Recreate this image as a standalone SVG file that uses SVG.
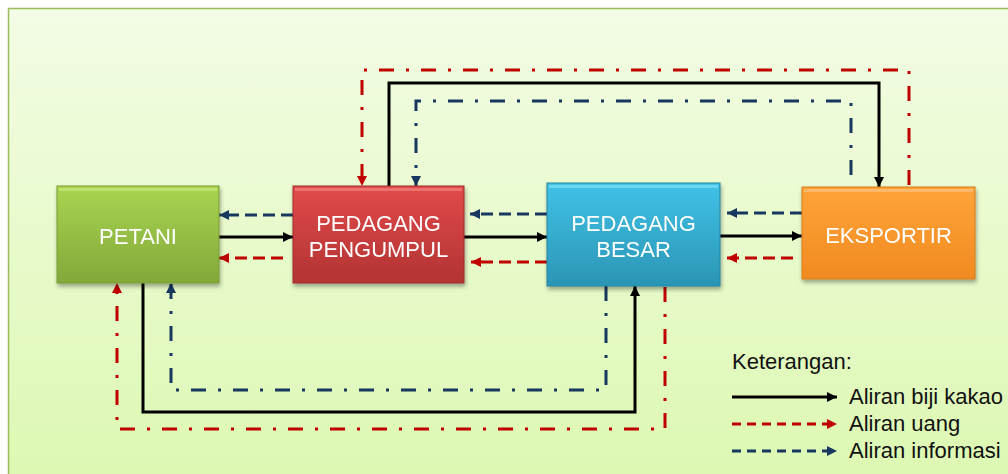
<svg xmlns="http://www.w3.org/2000/svg" width="1008" height="474" viewBox="0 0 1008 474">
<style>
.lbl{font-family:"Liberation Sans",Arial,sans-serif;font-size:22px;fill:#ffffff;text-anchor:middle}
.leg{font-family:"Liberation Sans",Arial,sans-serif;font-size:22px;fill:#111111}
.c{fill:none;stroke-width:3}
.blk{stroke:#000000}
.red{stroke:#c00000}
.blu{stroke:#17375e}
.dash{stroke-dasharray:12 6}
.ldash{stroke-dasharray:9 6}
.dd{stroke-dasharray:15 12 3 12}
</style>
<defs>
<linearGradient id="bg" x1="0" y1="0" x2="0" y2="1">
<stop offset="0" stop-color="#f3fce5"/>
<stop offset="1" stop-color="#dcf8b1"/>
</linearGradient>
<linearGradient id="gG" x1="0" y1="0" x2="0" y2="1">
<stop offset="0" stop-color="#a8d451"/>
<stop offset="1" stop-color="#83a83a"/>
</linearGradient>
<linearGradient id="gR" x1="0" y1="0" x2="0" y2="1">
<stop offset="0" stop-color="#e24a4a"/>
<stop offset="1" stop-color="#b23333"/>
</linearGradient>
<linearGradient id="gB" x1="0" y1="0" x2="0" y2="1">
<stop offset="0" stop-color="#40c2e6"/>
<stop offset="1" stop-color="#2b95b5"/>
</linearGradient>
<linearGradient id="gO" x1="0" y1="0" x2="0" y2="1">
<stop offset="0" stop-color="#ffa43a"/>
<stop offset="1" stop-color="#f08a20"/>
</linearGradient>
<filter id="sh" x="-10%" y="-10%" width="125%" height="130%">
<feGaussianBlur in="SourceAlpha" stdDeviation="2"/>
<feOffset dx="1" dy="3" result="b"/>
<feComponentTransfer><feFuncA type="linear" slope="0.35"/></feComponentTransfer>
<feMerge><feMergeNode/><feMergeNode in="SourceGraphic"/></feMerge>
</filter>
<marker id="aK" markerUnits="userSpaceOnUse" markerWidth="12" markerHeight="12" refX="10" refY="5" orient="auto"><path d="M0,0 L10,5 L0,10 z" fill="#000000"/></marker>
<marker id="aR" markerUnits="userSpaceOnUse" markerWidth="12" markerHeight="12" refX="10" refY="5" orient="auto"><path d="M0,0 L10,5 L0,10 z" fill="#c00000"/></marker>
<marker id="aB" markerUnits="userSpaceOnUse" markerWidth="12" markerHeight="12" refX="10" refY="5" orient="auto"><path d="M0,0 L10,5 L0,10 z" fill="#17375e"/></marker>
</defs>

<rect x="0" y="0" width="1008" height="474" fill="#ffffff"/>
<rect x="8.5" y="8.5" width="1010" height="480" fill="url(#bg)" stroke="#9bbb59" stroke-width="1.5"/>

<g id="connectors">
<!-- short horizontal -->
<path class="c blu dash" d="M293,215 H219" marker-end="url(#aB)"/>
<path class="c blk" d="M219,237 H293" marker-end="url(#aK)"/>
<path class="c red dash" d="M283,258 H219" marker-end="url(#aR)"/>
<path class="c blu dash" d="M547,214 H470" marker-end="url(#aB)"/>
<path class="c blk" d="M464,237 H547" marker-end="url(#aK)"/>
<path class="c red dash" d="M547,262 H471" marker-end="url(#aR)"/>
<path class="c blu dash" d="M802,213 H727" marker-end="url(#aB)"/>
<path class="c blk" d="M720,236 H802" marker-end="url(#aK)"/>
<path class="c red dash" d="M793,258 H727" marker-end="url(#aR)"/>
<!-- top loops -->
<path class="c red dd" d="M909,185 V70 H362 V186" marker-end="url(#aR)"/>
<path class="c blk" d="M389,186 V83 H879 V187" marker-end="url(#aK)"/>
<path class="c blu dd" d="M851,175 V101 H416 V186" marker-end="url(#aB)"/>
<!-- bottom loops -->
<path class="c red dd" d="M665,287 V429 H117 V283" marker-end="url(#aR)"/>
<path class="c blk" d="M143,283 V412 H635 V286" marker-end="url(#aK)"/>
<path class="c blu dd" d="M606,286 V390 H171 V283" marker-end="url(#aB)"/>
</g>

<g id="petani" filter="url(#sh)">
<rect x="57" y="186" width="162" height="97" fill="url(#gG)" stroke="#7a9b34" stroke-width="1"/>
<rect x="59" y="188" width="158" height="3" fill="#c6e87a" opacity="0.7"/>
<text class="lbl" x="138" y="244">PETANI</text>
</g>

<g id="pengumpul" filter="url(#sh)">
<rect x="293" y="186" width="171" height="97" fill="url(#gR)" stroke="#9c2e2e" stroke-width="1"/>
<rect x="295" y="188" width="167" height="3" fill="#f08080" opacity="0.7"/>
<text class="lbl" x="378.5" y="231">PEDAGANG</text>
<text class="lbl" x="378.5" y="257">PENGUMPUL</text>
</g>

<g id="besar" filter="url(#sh)">
<rect x="547" y="183" width="173" height="103" fill="url(#gB)" stroke="#27849f" stroke-width="1"/>
<rect x="549" y="185" width="169" height="3" fill="#7fe0f6" opacity="0.7"/>
<text class="lbl" x="633.5" y="231">PEDAGANG</text>
<text class="lbl" x="633.5" y="257">BESAR</text>
</g>

<g id="eksportir" filter="url(#sh)">
<rect x="802" y="187" width="173" height="92" fill="url(#gO)" stroke="#d67a1c" stroke-width="1"/>
<rect x="804" y="189" width="169" height="3" fill="#ffc27a" opacity="0.7"/>
<text class="lbl" x="888.5" y="243">EKSPORTIR</text>
</g>

<g id="legend">
<text class="leg" x="732" y="369">Keterangan:</text>
<path class="c blk" d="M732,397 H837" marker-end="url(#aK)"/>
<text class="leg" x="849" y="404">Aliran biji kakao</text>
<path class="c red ldash" d="M732,424 H837" marker-end="url(#aR)"/>
<text class="leg" x="849" y="431">Aliran uang</text>
<path class="c blu ldash" d="M732,451 H837" marker-end="url(#aB)"/>
<text class="leg" x="849" y="458">Aliran informasi</text>
</g>
</svg>
